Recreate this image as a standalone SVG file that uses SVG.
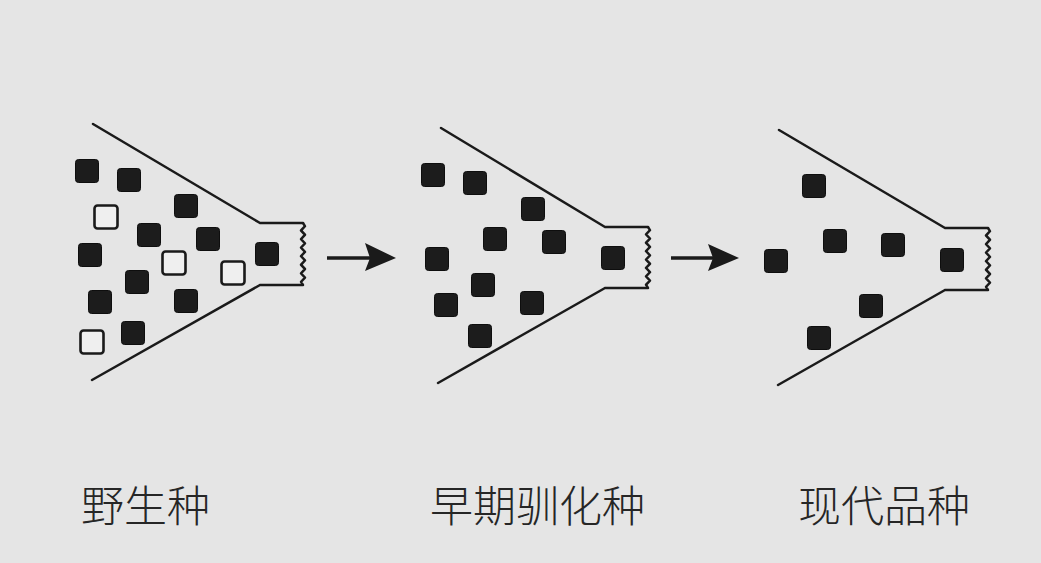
<svg xmlns="http://www.w3.org/2000/svg" width="1041" height="563" viewBox="0 0 1041 563">
<defs>
<style>
.ln{fill:none;stroke:#1a1a1a;stroke-width:2.5;stroke-linecap:round;stroke-linejoin:round}
.sp{fill:none;stroke:#1a1a1a;stroke-width:2.4;stroke-linejoin:round}
.b{fill:#1c1c1c;stroke:#0e0e0e;stroke-width:1}
.w{fill:#efefef;stroke:#1a1a1a;stroke-width:2.6}
.lbl{font-family:"Noto Sans CJK SC","Noto Sans",sans-serif;font-size:43px;font-weight:300;fill:#262626}
.ar{fill:none;stroke:#1a1a1a;stroke-width:3.5}
</style>
<rect id="sq" x="-11.5" y="-11.5" width="23" height="23" rx="3"/>
<path id="spring" d="M0,0 l2,3 l-4,4 l4,4 l-4,4 l4,4 l-4,4 l4,4 l-4,4 l4,4 l-4,4 l4,4 l-4,4 l4,4 l-4,4 l2,3"/>
</defs>
<rect width="1041" height="563" fill="#e5e5e5"/>

<g id="funnel-wild">
<path class="ln" d="M93,124 L260,223 L303,223 M260,285 L92,380 M260,285 L303,285"/>
<use href="#spring" class="sp" transform="translate(303,223) scale(1,1.07)"/>
<use href="#sq" class="b" x="87" y="171"/>
<use href="#sq" class="b" x="129" y="180"/>
<use href="#sq" class="b" x="186" y="206"/>
<use href="#sq" class="w" x="106" y="217"/>
<use href="#sq" class="b" x="149" y="235"/>
<use href="#sq" class="b" x="208" y="239"/>
<use href="#sq" class="b" x="90" y="255"/>
<use href="#sq" class="w" x="174" y="263"/>
<use href="#sq" class="w" x="233" y="273"/>
<use href="#sq" class="b" x="267" y="254"/>
<use href="#sq" class="b" x="137" y="282"/>
<use href="#sq" class="b" x="100" y="302"/>
<use href="#sq" class="b" x="186" y="301"/>
<use href="#sq" class="w" x="92" y="342"/>
<use href="#sq" class="b" x="133" y="333"/>
</g>

<g id="funnel-early">
<path class="ln" d="M441,128 L605,227 L648,227 M605,288 L438,383 M605,288 L648,288"/>
<use href="#spring" class="sp" transform="translate(648,227) scale(1,1.05)"/>
<use href="#sq" class="b" x="433" y="175"/>
<use href="#sq" class="b" x="475" y="183"/>
<use href="#sq" class="b" x="533" y="209"/>
<use href="#sq" class="b" x="495" y="239"/>
<use href="#sq" class="b" x="554" y="242"/>
<use href="#sq" class="b" x="437" y="259"/>
<use href="#sq" class="b" x="613" y="258"/>
<use href="#sq" class="b" x="483" y="285"/>
<use href="#sq" class="b" x="446" y="305"/>
<use href="#sq" class="b" x="532" y="303"/>
<use href="#sq" class="b" x="480" y="336"/>
</g>

<g id="funnel-modern">
<path class="ln" d="M779,130 L945,228 L988,228 M945,290 L778,385 M945,290 L988,290"/>
<use href="#spring" class="sp" transform="translate(988,228) scale(1,1.07)"/>
<use href="#sq" class="b" x="814" y="186"/>
<use href="#sq" class="b" x="835" y="241"/>
<use href="#sq" class="b" x="893" y="245"/>
<use href="#sq" class="b" x="776" y="261"/>
<use href="#sq" class="b" x="952" y="260"/>
<use href="#sq" class="b" x="871" y="306"/>
<use href="#sq" class="b" x="819" y="338"/>
</g>

<g id="connectors">
<line class="ar" x1="327" y1="258" x2="372" y2="258"/>
<path d="M365,243 L396,258 L365,271 L370,258 Z" fill="#1a1a1a"/>
<line class="ar" x1="671" y1="258" x2="715" y2="258"/>
<path d="M708,244 L739,258 L708,271 L713,258 Z" fill="#1a1a1a"/>
</g>

<g id="labels">
<text class="lbl" x="81" y="522">野生种</text>
<text class="lbl" x="430" y="522">早期驯化种</text>
<text class="lbl" x="798" y="522">现代品种</text>
</g>
</svg>
